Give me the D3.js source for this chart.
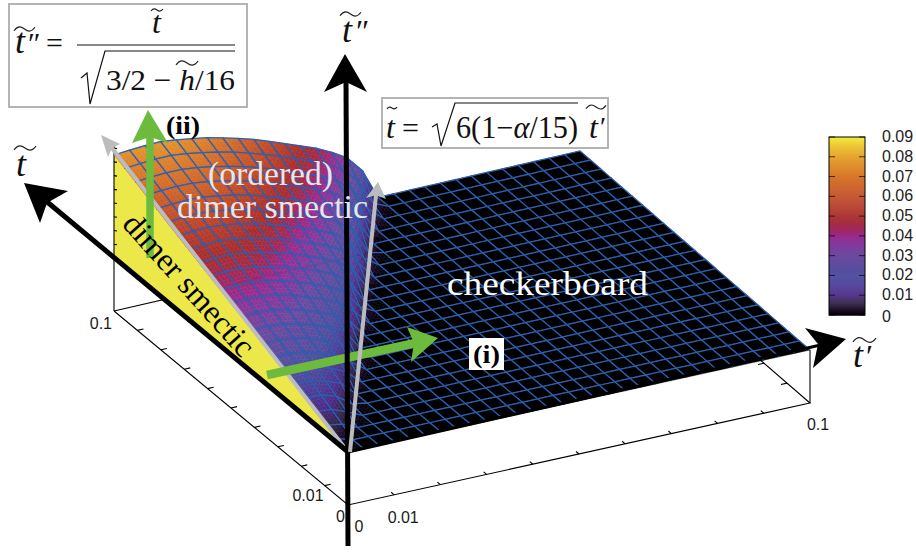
<!DOCTYPE html>
<html><head><meta charset="utf-8">
<script src="https://cdnjs.cloudflare.com/ajax/libs/d3/7.8.5/d3.min.js"></script>
<style>html,body{margin:0;padding:0;background:#fff;overflow:hidden}svg{display:block}</style>
</head><body><svg id="c" width="916" height="552"></svg>
<script>
// heights of the order-parameter surface, in thousandths, one row per t~ grid line (0..22),
// one entry per t~' grid line starting at t~'=0; nodes not listed lie on the flat checkerboard (0)
const surfaceRows = [
[0],
[3.4,0],
[6.8,5,0],
[10.2,9.3,4.9,0],
[13.6,13.3,10,1.9,0],
[17,17.1,14.5,10.3,0],
[20.5,20.8,18.7,14.9,9.9,0],
[23.9,24.4,22.7,19.5,15.3,8,0],
[27.3,28,26.5,23.8,19.9,15.4,3.9,0],
[30.7,31.4,30.4,28,24.5,20.3,14.8,0],
[34.1,34.9,34.1,32,29,24.9,20.6,13.3,0],
[37.5,38.3,37.8,36,33.2,29.5,25.2,20.3,11,0],
[40.9,41.8,41.5,39.8,37.3,34,29.9,25.6,19.7,5.8,0],
[44.3,45.3,45.2,43.6,41.4,38.3,34.5,30.5,25.8,18.4,0.8,0],
[47.7,48.7,48.9,47.5,45.3,42.5,39,34.9,30.5,25.3,16.1,0],
[51.1,52.2,52.5,51.2,49.3,46.6,43.4,39.5,35.2,30.9,24.7,12.9,0],
[54.5,55.6,55.9,54.9,53.1,50.7,47.6,44,39.9,35.6,30.8,23.6,7.8,0],
[58,59,59.4,58.6,56.9,54.6,51.9,48.5,44.5,40.2,35.9,30.1,21.3,2.7,0],
[61.4,62.3,62.8,62.3,60.7,58.7,56,52.8,49,44.8,40.5,36.2,29.6,19,0],
[64.8,65.8,66.3,66,64.5,62.5,60,57,53.5,49.5,45.2,40.8,35.8,28.8,14.7,0],
[68.2,69.2,69.7,69.6,68.3,66.4,64,61.2,57.9,54,49.8,45.5,41.2,35.2,26.5,9.7,0],
[71.6,72.5,73.2,73.3,72,70.2,68,65.3,62.1,58.5,54.5,50.1,45.8,41.2,34.6,24.2,4.7,0],
[75,76,76.7,77,75.7,74,72,69.3,66.3,63,59,54.8,50.5,46.2,40.7,34,22,0]
];
const columnCells = 30;
const rowCells = 22;
const axisTicks = [0,0.01,0.02,0.03,0.04,0.05,0.06,0.07,0.08,0.09,0.1];
const heightTicks = [0,0.01,0.02,0.03,0.04,0.05,0.06,0.07,0.08];
const colorbarTicks = [0,0.01,0.02,0.03,0.04,0.05,0.06,0.07,0.08,0.09];
const colorbarLabels = ["0","0.01","0.02","0.03","0.04","0.05","0.06","0.07","0.08","0.09"];
const colorValues = [0,0.002,0.006,0.01,0.015,0.02,0.03,0.037,0.04,0.043,0.047,0.05,0.06,0.07,0.08,0.085,0.09];
const colorNames = ["#000000","#15051f","#33264a","#4d2a85","#4c3f98","#4f4f9f","#6a4a9f","#8a359a","#9a2a8a","#a02860","#a52c3a","#a92e2e","#c2502a","#d8782b","#e6a430","#ecc435","#f3ec3c"];

const svg = d3.select("#c");
const serif = "'Liberation Serif','Times New Roman',serif";
const sans = "'Liberation Sans',Arial,sans-serif";
const gridColor = "#2c60b2";
const gridWidth = 1.25;

const color = d3.scaleLinear().domain(colorValues).range(colorNames).clamp(true);
const uScale = d3.scaleLinear().domain([0,0.1]).range([0,1]);
const heightPx = d3.scaleLinear().domain([0,0.09]).range([0,123.6]);
const colScale = d3.scaleLinear().domain([0,columnCells]).range([0,0.1]);
const rowScale = d3.scaleLinear().domain([0,rowCells]).range([0,0.1]);

// bilinear view of the tilted base plane
const O={x:348,y:452},A={x:810,y:350},B={x:114,y:258},C={x:580,y:151};
function project(tp,t,z){
  const u=uScale(tp),v=uScale(t);
  const x=O.x+u*(A.x-O.x)+v*(B.x-O.x)+u*v*(C.x-A.x-B.x+O.x);
  const y=O.y+u*(A.y-O.y)+v*(B.y-O.y)+u*v*(C.y-A.y-B.y+O.y);
  return [x,y-heightPx(z)];
}
const floorZ=-0.0386;
const nodeZ=(i,j)=>{const r=surfaceRows[j];return (r&&r[i]!==undefined?r[i]:0)*0.001;};
const line=d3.line();

// floor box
const gF=svg.append("g").attr("fill","none").attr("stroke","#000").attr("stroke-width",1.1);
const pl=(g,pts,w)=>g.append("path").attr("d",line(pts)).attr("stroke-width",w||null);
pl(gF,[project(0,0.1,floorZ),project(0,0,floorZ),project(0.1,0,floorZ),project(0.1,0.1,floorZ),project(0,0.1,floorZ)]);
pl(gF,[project(0.1,0,floorZ),project(0.1,0,0)]);
const tk=0.0013;
axisTicks.slice(1,-1).forEach(v=>{
  pl(gF,[project(0,v,floorZ),project(tk,v,floorZ)]);
  pl(gF,[project(v,0,floorZ),project(v,tk,floorZ)]);
  pl(gF,[project(0.1,v,floorZ),project(0.1-tk,v,floorZ)]);
});

// tick labels
const tl=svg.append("g").attr("font-family",sans).attr("font-size",16).attr("fill","#1a1a1a");
const lab=(s,p,dx,dy,a)=>tl.append("text").attr("x",p[0]+dx).attr("y",p[1]+dy).attr("text-anchor",a||"middle").text(s);
lab("0.1",project(0,0.1,floorZ),-2,18,"end");
lab("0.01",project(0,0.01,floorZ),-1,15,"end");
lab("0",project(0,0,floorZ),-3,17,"end");
lab("0",project(0,0,floorZ),11,27);
lab("0.01",project(0.01,0,floorZ),9,28);
lab("0.1",project(0.1,0,floorZ),8,27);

// yellow wall under the t'=0 edge
const wallPts=[project(0,0,0),project(0,0.1,0)];
for(let j=rowCells;j>=0;j--) wallPts.push(project(0,rowScale(j),nodeZ(0,j)));
svg.append("path").attr("d",line(wallPts)+"Z").attr("fill","#ece84a");
const gW=svg.append("g").attr("fill","none").attr("stroke","#000").attr("stroke-width",1.1);
pl(gW,[project(0,0.1,floorZ),project(0,0.1,0.082)]);
heightTicks.forEach(z=>{const p=project(0,0.1,z);pl(gW,[p,[p[0]+3,p[1]+0.5]]);});

// surface cells, far to near
const items=[];
const sub=4;
const cellOrder=[];
for(let j=0;j<rowCells;j++)for(let i=0;i<columnCells;i++)cellOrder.push([i,j]);
cellOrder.sort((a,b)=>(b[0]/columnCells+b[1]/rowCells)-(a[0]/columnCells+a[1]/rowCells));
cellOrder.forEach(([i,j])=>{
  const z00=nodeZ(i,j),z10=nodeZ(i+1,j),z01=nodeZ(i,j+1),z11=nodeZ(i+1,j+1);
  const tp=a=>colScale(i+a),tt=b=>rowScale(j+b);
  const zb=(a,b)=>z00*(1-a)*(1-b)+z10*a*(1-b)+z01*(1-a)*b+z11*a*b;
  const P=(a,b)=>project(tp(a),tt(b),zb(a,b));
  if(z00||z10||z01||z11){
    for(let s=sub-1;s>=0;s--)for(let r=sub-1;r>=0;r--){
      const a0=r/sub,a1=(r+1)/sub,b0=s/sub,b1=(s+1)/sub;
      const c=color(zb((a0+a1)/2,(b0+b1)/2));
      items.push({d:line([P(a0,b0),P(a1,b0),P(a1,b1),P(a0,b1)])+"Z",fill:c,stroke:c,w:0.5});
    }
  } else {
    items.push({d:line([P(0,0),P(1,0),P(1,1),P(0,1)])+"Z",fill:"#000",stroke:"#000",w:0.4});
  }
  items.push({d:line([P(0,1),P(1,1),P(1,0)]),fill:"none",stroke:gridColor,w:gridWidth});
  if(j>0) items.push({d:line([P(0,0),P(1,0)]),fill:"none",stroke:gridColor,w:gridWidth});
  if(i>0) items.push({d:line([P(0,1),P(0,0)]),fill:"none",stroke:gridColor,w:gridWidth});
});
svg.append("g").selectAll("path").data(items).join("path")
  .attr("d",d=>d.d).attr("fill",d=>d.fill).attr("stroke",d=>d.stroke).attr("stroke-width",d=>d.w);

// arrows
function poly(pts,fill){svg.append("path").attr("d",line(pts)+"Z").attr("fill",fill);}
function shaft(a,b,w,col){svg.append("path").attr("d",line([a,b])).attr("stroke",col).attr("stroke-width",w).attr("fill","none");}

const gray="#bcbcc0", green="#6cbb3c";
shaft([348,452],[108,143],4,gray);
poly([[101,135],[120,144],[112,148],[108,157]],gray);

shaft([267,375],[420,342],8.5,green);
poly([[438,338],[407,327],[414,343],[411,362]],green);
shaft([150,258],[150,135],7.5,green);
poly([[148,110],[168,143],[150,137],[132,143]],green);

// black axes
shaft([348,452],[40,196],5,"#000");
poly([[24,183],[68,191],[47,203],[40,223]],"#000");
shaft([348,452],[825,344],3,"#000");
poly([[846,339],[805,328],[818,344],[813,368]],"#000");
shaft([348,546],[346,80],5,"#000");
poly([[345,54],[367,92],[346,82],[324,92]],"#000");

shaft([350,452],[376,195],4,gray);
poly([[378,182],[386,199],[376,195],[366,198]],gray);

// colour bar
const cbY=d3.scaleLinear().domain([0,0.09]).range([315,137]);
const cb=svg.append("g");
cb.selectAll("rect").data(d3.range(0,0.09,0.0005)).join("rect")
  .attr("x",829).attr("width",36).attr("y",d=>cbY(d+0.0005)).attr("height",d=>cbY(d)-cbY(d+0.0005)+0.5)
  .attr("fill",d=>color(d));
cb.append("rect").attr("x",829).attr("y",cbY(0.09)).attr("width",36).attr("height",cbY(0)-cbY(0.09))
  .attr("fill","none").attr("stroke","#000").attr("stroke-width",1);
colorbarTicks.forEach((v,k)=>{
  cb.append("path").attr("d",`M829,${cbY(v)}h6M865,${cbY(v)}h-6`).attr("stroke","#000").attr("stroke-opacity",.7).attr("stroke-width",1);
  cb.append("text").attr("x",882).attr("y",cbY(v)+(v===0?7:5)).attr("font-family",sans).attr("font-size",16).attr("fill","#222").text(colorbarLabels[k]);
});

// text helpers
function T(s,x,y,size,opts){
  opts=opts||{};
  const e=svg.append("text").attr("x",x).attr("y",y).attr("font-family",opts.font||serif).attr("font-size",size)
    .attr("fill",opts.fill||"#111").text(s);
  if(opts.italic) e.attr("font-style","italic");
  if(opts.bold) e.attr("font-weight","bold");
  if(opts.len) e.attr("textLength",opts.len).attr("lengthAdjust","spacingAndGlyphs");
  if(opts.rot!==undefined) e.attr("transform",`rotate(${opts.rot} ${x} ${y})`);
  return e;
}
function M(parts,x,y,size,len){ // one formula run, italic where marked
  const e=svg.append("text").attr("x",x).attr("y",y).attr("font-family",serif).attr("font-size",size).attr("fill","#111")
    .attr("textLength",len).attr("lengthAdjust","spacingAndGlyphs");
  parts.forEach(p=>e.append("tspan").attr("font-style",p[1]?"italic":"normal").text(p[0]));
}
function tilde(x0,x1,y){
  const w=x1-x0,h=w*0.14;
  svg.append("path").attr("d",`M${x0},${y+h*0.6}C${x0+w*.2},${y-h*1.3} ${x0+w*.35},${y-h*.8} ${x0+w*.5},${y}S${x0+w*.8},${y+h*1.3} ${x1},${y-h*.6}`)
    .attr("fill","none").attr("stroke","#222").attr("stroke-width",1.2);
}
function box(x,y,w,h){svg.append("rect").attr("x",x).attr("y",y).attr("width",w).attr("height",h).attr("fill","#fff").attr("stroke","#b4b4b4").attr("stroke-width",2);}
function rule(pts,w){svg.append("path").attr("d",line(pts)).attr("fill","none").attr("stroke","#111").attr("stroke-width",w||1.2);}

// axis names
T("t",342,42,36,{italic:true}); T("″",356,42,32); tilde(340,361,14);
T("t",16,176,36,{italic:true}); tilde(14,36,148);
T("t",853,367,36,{italic:true}); T("′",866,367,32); tilde(853,876,340);

// formula box 1
box(9,4,238,103);
T("t",15,53,36,{italic:true}); T("″",28,53,30); tilde(14,35,29);
T("=",46,53,30);
rule([[77,45],[235,45]]);
T("t",152,33,32,{italic:true}); tilde(151,163,10);
rule([[81,78],[87,73],[90,104],[105,51],[235,51]]);
M([["3/2 − ",0],["h",1],["/16",0]],106,90,30,129);
tilde(176,198,63);

// formula box 2
box(382,98,226,50);
T("t",386,138,32,{italic:true}); tilde(387,397,108);
T("=",402,138,30);
rule([[432,127],[437,124],[441,146],[455,103],[578,103]]);
M([["6(1−",0],["α",1],["/15)",0]],456,138,31,122);
T("t",589,138,32,{italic:true}); T("′",600,136,28); tilde(586,606,107);

// region names
const lightText="#e6e6ea";
T("(ordered)",208,185,33,{fill:lightText,len:125});
T("dimer smectic",177,218,33,{fill:lightText,len:191});
T("checkerboard",447,295,33,{fill:"#fff",len:201});
T("dimer smectic",121,225,32,{fill:"#000",rot:48,len:180});
T("(ii)",166,134,26,{bold:true,len:34,fill:"#000"});
svg.append("rect").attr("x",469).attr("y",338).attr("width",35).attr("height",32).attr("fill","#fff");
T("(i)",473,363,26,{bold:true,len:27,fill:"#000"});
</script></body></html>
